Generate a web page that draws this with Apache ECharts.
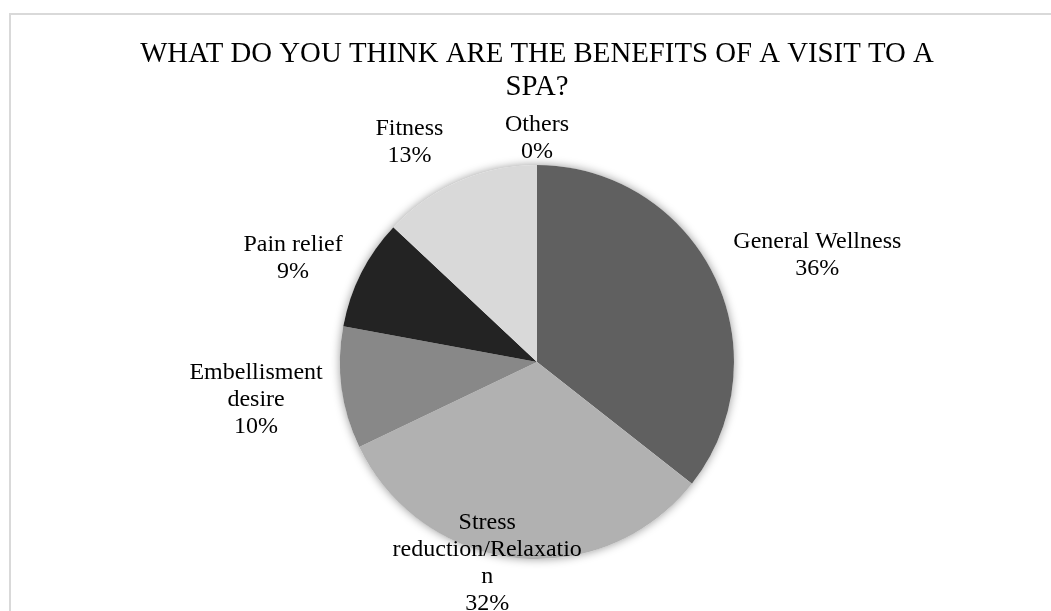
<!DOCTYPE html>
<html>
<head>
<meta charset="utf-8">
<script src="https://cdn.jsdelivr.net/npm/echarts@6/dist/echarts.min.js"></script>
<style>
  html, body { margin: 0; padding: 0; background: #ffffff; }
  #chart { width: 1051px; height: 611px; }
</style>
</head>
<body>
<div id="chart"></div>
<script>
// Survey answers: perceived benefits of a spa visit (percent of respondents)
const categories = ['General Wellness', 'Stress reduction/Relaxation', 'Embellisment desire', 'Pain relief', 'Fitness', 'Others'];
const labelText = ['General Wellness', 'Stress\nreduction/Relaxatio\nn', 'Embellisment\ndesire', 'Pain relief', 'Fitness', 'Others'];
const shares = [35.6, 32.3, 10.0, 9.1, 13.0, 0];
const titleText = 'WHAT DO YOU THINK ARE THE BENEFITS OF A VISIT TO A\nSPA?';

// Slice fills (grey monochrome palette)
const colors = ['#606060', '#b1b1b1', '#888888', '#232323', '#d9d9d9', '#7f7f7f'];

// Pie geometry and label placement tuning
const CX = 537, CY = 362, R = 197;
const labelGap = [15, -65, 15, 12, 17, 0];      // space between rim and label box
const labelTurn = [5, 7.6, 0, -3.7, -6.7, 0];   // angular nudge (degrees)

// Mid-angle of each slice, clockwise from 12 o'clock
const total = shares.reduce((s, v) => s + v, 0);
const midAngles = [];
let acc = 0;
shares.forEach(v => {
  midAngles.push((acc + v / 2) / total * 360);
  acc += v;
});

const chart = echarts.init(document.getElementById('chart'), null, { renderer: 'canvas' });

chart.setOption({
  animation: false,
  backgroundColor: '#ffffff',
  graphic: [
    {
      // chart frame
      type: 'rect',
      shape: { x: 10, y: 14, width: 1100, height: 700 },
      style: { fill: 'none', stroke: '#d9d9d9', lineWidth: 2 },
      silent: true,
      z: -10
    },
    {
      // chart title, centred over the pie
      type: 'text',
      x: CX,
      y: 38,
      silent: true,
      style: {
        text: titleText,
        fontFamily: 'Liberation Serif',
        fontSize: 28.8,
        fontWeight: 'normal',
        fill: '#000000',
        lineHeight: 33,
        align: 'center',
        verticalAlign: 'top'
      }
    }
  ],
  series: [
    {
      // soft drop shadow under the whole disc
      type: 'pie',
      center: [CX, CY],
      radius: R,
      silent: true,
      z: 1,
      label: { show: false },
      labelLine: { show: false },
      itemStyle: {
        color: '#ffffff',
        shadowBlur: 10,
        shadowColor: 'rgba(0,0,0,0.4)'
      },
      data: [{ value: 1 }]
    },
    {
      type: 'pie',
      center: [CX, CY],
      radius: R,
      startAngle: 90,
      clockwise: true,
      z: 2,
      avoidLabelOverlap: false,
      data: categories.map((name, i) => ({
        name: name,
        value: shares[i],
        itemStyle: { color: colors[i] }
      })),
      itemStyle: { borderWidth: 0 },
      label: {
        show: true,
        position: 'outside',
        fontFamily: 'Liberation Serif',
        fontSize: 24,
        lineHeight: 27,
        color: '#000000',
        align: 'center',
        formatter: p => labelText[p.dataIndex] + '\n' + Math.round(p.value / total * 100) + '%'
      },
      labelLine: { show: false },
      labelLayout: function (p) {
        const i = p.dataIndex;
        const a = (midAngles[i] + labelTurn[i]) * Math.PI / 180;
        const ux = Math.sin(a), uy = -Math.cos(a);
        const hw = p.labelRect.width / 2, hh = p.labelRect.height / 2;
        const d = R + labelGap[i] + hw * Math.abs(ux) + hh * Math.abs(uy);
        return { x: CX + d * ux, y: CY + d * uy, align: 'center', verticalAlign: 'middle' };
      }
    }
  ]
});
</script>
</body>
</html>
